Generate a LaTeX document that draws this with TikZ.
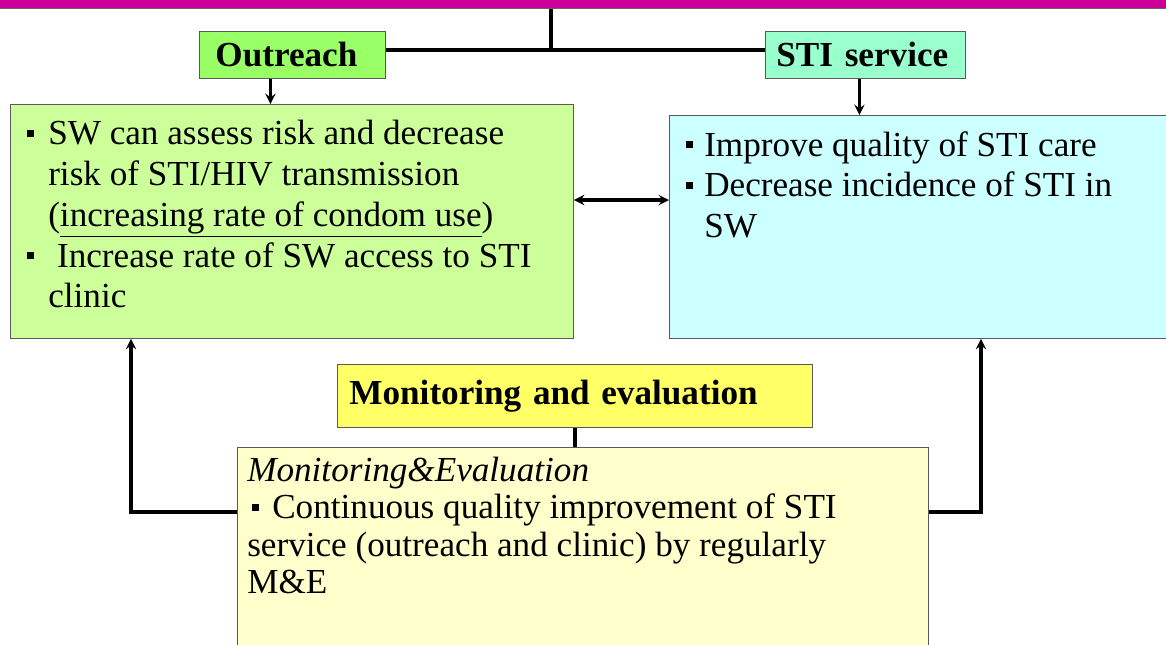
\documentclass[tikz,border=0pt]{standalone}
\usepackage{fontspec}
\setmainfont{Liberation Serif}
\usetikzlibrary{arrows}

\definecolor{barmagenta}{HTML}{CC0099}
\definecolor{headgreen}{HTML}{99FF66}
\definecolor{headaqua}{HTML}{99FFCC}
\definecolor{headyellow}{HTML}{FFFF66}
\definecolor{boxgreen}{HTML}{CCFF99}
\definecolor{boxcyan}{HTML}{CCFFFF}
\definecolor{boxyellow}{HTML}{FFFFCC}

\newcommand{\sqbul}{\rule[5.5pt]{5pt}{5pt}}
\newcommand{\bul}[1]{\makebox[#1][l]{\sqbul}}

\begin{document}
\begin{tikzpicture}[x=0.025cm, y=-0.025cm, >=stealth,
  box/.style={draw=black!65, line width=0.6pt, anchor=north west, inner sep=0pt},
  head/.style={box, font=\bfseries\fontsize{25}{29}\selectfont, align=left},
  body/.style={anchor=north west, inner sep=0pt, align=left},
  joinline/.style={draw=black, line width=2.2pt}]
\useasboundingbox[fill=white] (0,0) rectangle (1166,645);

% draw the bar on top
\node[fill=barmagenta, draw=black!60, line width=0.8pt, anchor=south west,
  minimum width=29.4cm, minimum height=0.5cm, inner sep=0pt] (bar) at (-5,9) {};

% draw the headings
\node[head, fill=headgreen, inner xsep=0.4cm, text width=3.85cm,
  minimum height=1.175cm] (outreach) at (199,31) {Outreach};
\node[head, fill=headaqua, inner xsep=0.275cm, text width=4.45cm,
  minimum height=1.175cm] (sti) at (765,31) {STI service};
\node[head, fill=headyellow, inner xsep=0.3cm, text width=11.275cm,
  minimum height=1.575cm] (metitle) at (337,364) {Monitoring and evaluation};

% draw the boxes
\node[box, fill=boxgreen, minimum width=14.075cm, minimum height=5.85cm] (outbox) at (10,104) {};
\node[box, fill=boxcyan, minimum width=12.5cm, minimum height=5.575cm] (stibox) at (669,115) {};
\node[box, fill=boxyellow, minimum width=17.275cm, minimum height=5.4cm] (mebox) at (237,447) {};

% the texts in the boxes
\node[body, font=\fontsize{25}{29}\selectfont] (outtext) at (27,120) {%
\bul{0.525cm}SW can assess risk and decrease\\
\hspace*{0.525cm}risk of STI/HIV transmission\\
\hspace*{0.525cm}(\underline{increasing rate of condom use})\\
\bul{0.525cm}\ Increase rate of SW access to STI\\
\hspace*{0.525cm}clinic};
\node[body, font=\fontsize{25}{29}\selectfont] (stitext) at (686,131) {%
\bul{0.45cm}Improve quality of STI care\\
\bul{0.45cm}Decrease incidence of STI in\\
\hspace*{0.45cm}SW};
\node[body, font=\fontsize{25}{26.5}\selectfont] (metext) at (247,457) {%
\textit{Monitoring\&Evaluation}\\
\hspace*{0.125cm}\bul{0.5cm}Continuous quality improvement of STI\\
service (outreach and clinic) by regularly\\
M\&E};

% lines from the bar to the headings
\coordinate (split) at (551,50);
\draw[joinline] (bar.south -| split) -- (split);
\draw[joinline] (outreach.east |- split) -- (sti.west |- split);

% arrows from the headings to the boxes
\draw[joinline,->] ([xshift=-0.55cm]outreach.south) -- ([xshift=-0.55cm]outreach.south |- outbox.north);
\draw[joinline,->] ([xshift=-0.15cm]sti.south) -- ([xshift=-0.15cm]sti.south |- stibox.north);
\coordinate (mid) at (620,200);
\draw[joinline,<->] (outbox.east |- mid) -- (stibox.west |- mid);
\draw[joinline] (metitle.south) -- (metitle.south |- mebox.north);

% feedback from M&E to both boxes
\coordinate (backl) at (131,512);
\coordinate (backr) at (981,512);
\draw[joinline,->] (mebox.west |- backl) -- (backl) -- (backl |- outbox.south);
\draw[joinline,->] (mebox.east |- backr) -- (backr) -- (backr |- stibox.south);
\end{tikzpicture}
\end{document}
